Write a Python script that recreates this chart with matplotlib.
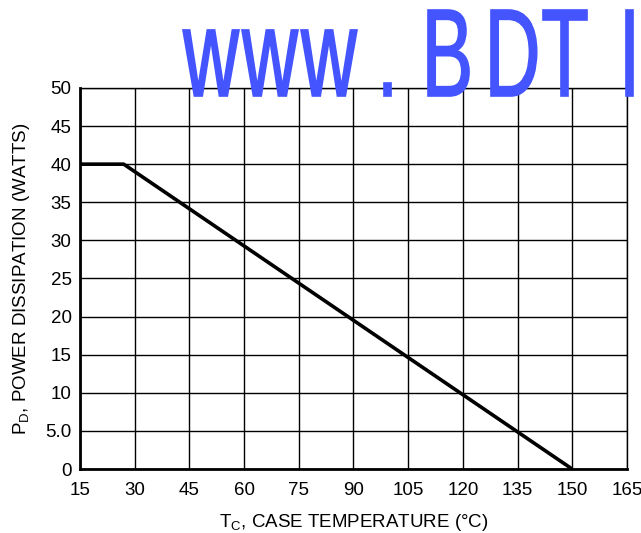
import matplotlib
matplotlib.use("Agg")
import matplotlib.pyplot as plt
from matplotlib.textpath import TextPath
from matplotlib.patches import PathPatch
from matplotlib.font_manager import FontProperties
from matplotlib.transforms import Affine2D

# derating curve (case temperature vs power dissipation)
temp_c = [15, 27, 150]
power_w = [40, 40, 0]

x_ticks = [15, 30, 45, 60, 75, 90, 105, 120, 135, 150, 165]
y_ticks = [0, 5, 10, 15, 20, 25, 30, 35, 40, 45, 50]
y_tick_labels = ["0", "5.0", "10", "15", "20", "25", "30", "35", "40", "45", "50"]

font = "Liberation Sans"
plt.rcParams['font.family'] = [font, 'DejaVu Sans']
plt.rcParams['mathtext.fontset'] = 'custom'
plt.rcParams['mathtext.rm'] = font

fig = plt.figure(figsize=(6.41, 5.33), dpi=100)
ax = fig.add_axes([0.1248, 0.120, 0.8532, 0.715])

ax.plot(temp_c, power_w, color='black', linewidth=2.6, solid_capstyle='butt', zorder=3)

ax.set_xlim(15, 165)
ax.set_ylim(0, 50)
ax.set_xticks(x_ticks)
ax.set_yticks(y_ticks)
ax.set_yticklabels(y_tick_labels)
ax.grid(True, color='black', linewidth=1.0)
ax.tick_params(axis='x', length=0, labelsize=13.5, pad=9)
ax.tick_params(axis='y', length=0, labelsize=13.5, pad=6)
for side in ['top', 'right']:
    ax.spines[side].set_linewidth(1.0)
for side in ['left', 'bottom']:
    ax.spines[side].set_linewidth(2.0)

ax.set_xlabel(r"T$_\mathregular{C}$, CASE TEMPERATURE (°C)", fontsize=13.5, labelpad=10)
ax.set_ylabel(r"P$_\mathregular{D}$, POWER DISSIPATION (WATTS)", fontsize=13.5, labelpad=10)

# watermark, condensed letters drawn as paths (pixel coordinates)
mark = "www.BDTI"
mark_left = [182, 241, 300, 383, 427, 490, 542, 625]
fp = FontProperties(family=font)
cap = TextPath((0, 0), "B", size=100, prop=fp).get_extents()
w_ext = TextPath((0, 0), "w", size=100, prop=fp).get_extents()
sy = 86 / cap.ymax
sx = 56 / w_ext.width
baseline = 533 - 96
for ch, px in zip(mark, mark_left):
    tp = TextPath((0, 0), ch, size=100, prop=fp)
    ext = tp.get_extents()
    tr = Affine2D().translate(-ext.xmin, 0).scale(sx, sy).translate(px + 1, baseline)
    fig.patches.append(PathPatch(tp, transform=tr, facecolor='#4455ff',
                                 edgecolor='#4455ff', linewidth=1.2, zorder=10))

fig.savefig("out.png", dpi=100)
